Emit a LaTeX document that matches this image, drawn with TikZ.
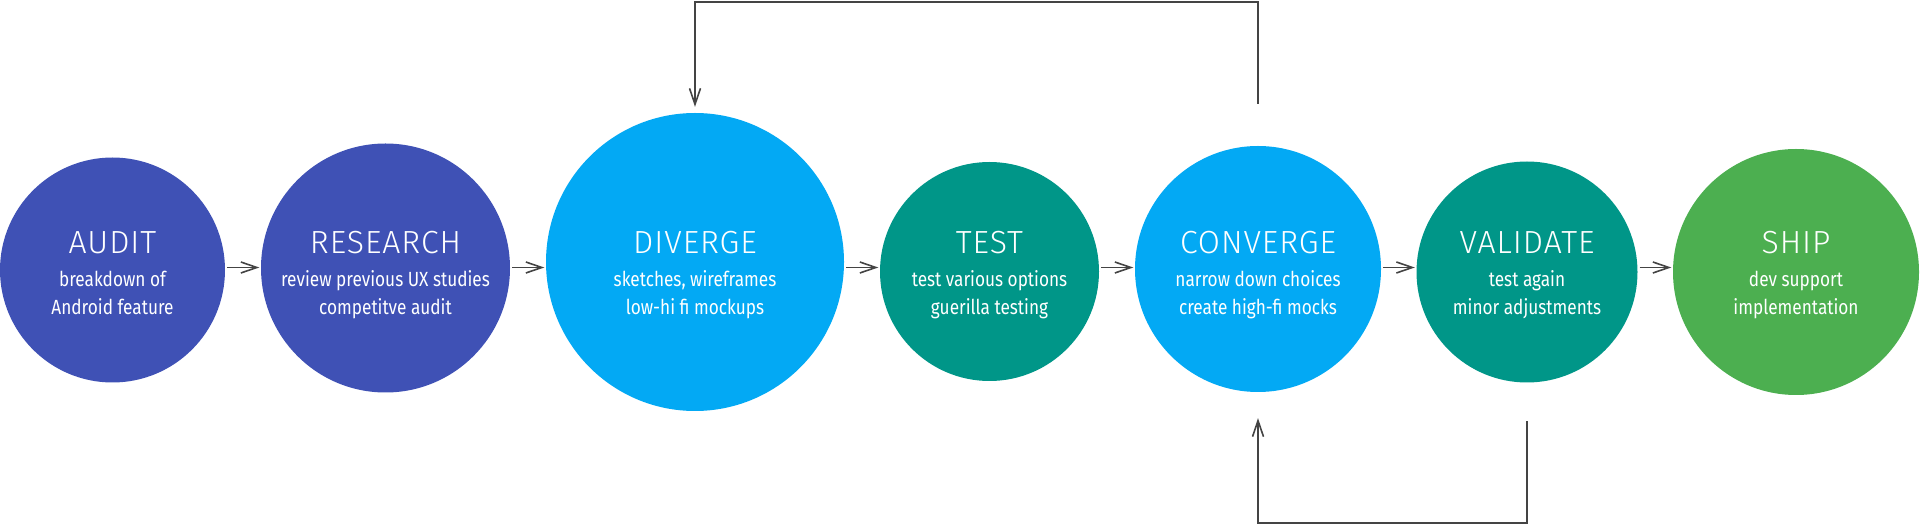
\documentclass[tikz,border=0pt]{standalone}
\usepackage{fontspec}
\setmainfont{Fira Sans}
\newfontfamily\ttlfont{Fira Sans}[UprightFont=* Light, LetterSpace=3]
\newfontfamily\subfont{Fira Sans}[FakeStretch=0.84]
\usetikzlibrary{arrows.meta}
\definecolor{cIndigo}{HTML}{3F51B5}
\definecolor{cLBlue}{HTML}{03A9F4}
\definecolor{cTeal}{HTML}{009688}
\definecolor{cGreen}{HTML}{4CAF50}
\definecolor{cArrow}{HTML}{444444}
\tikzset{
  stage/.style={circle, draw=none, inner sep=0pt, minimum size=#1},
  ttl/.style={anchor=base, text=white, inner sep=0pt, font=\ttlfont\fontsize{32}{32}\selectfont},
  sub/.style={anchor=base, text=white, inner sep=0pt, align=center, font=\subfont\fontsize{20.5}{28}\selectfont},
  arr/.style={draw=cArrow, line width=1.6pt, -{Straight Barb[length=16pt,width=11pt,line width=1.6pt]}},
  flow/.style={arr, shorten <=2pt, shorten >=1.5pt}
}
\begin{document}
\begin{tikzpicture}[x=1pt,y=1pt]
\useasboundingbox (0,0) rectangle (1920,525);
\coordinate (mid) at (0,257.5);
\coordinate (ttlY) at (0,271);
\coordinate (subY) at (0,210);
\coordinate (topY) at (0,523);
\coordinate (botY) at (0,2);

\node[stage=225pt, fill=cIndigo] (audit) at (112.5,255) {};
\node[stage=249pt, fill=cIndigo] (research) at (385.5,257) {};
\node[stage=298pt, fill=cLBlue] (diverge) at (695,263) {};
\node[stage=219pt, fill=cTeal] (test) at (989.5,253.5) {};
\node[stage=246pt, fill=cLBlue] (converge) at (1258,256) {};
\node[stage=221pt, fill=cTeal] (validate) at (1527,253) {};
\node[stage=246pt, fill=cGreen] (ship) at (1796,253) {};

\node[ttl] (t1) at (audit |- ttlY) {AUDIT};
\node[ttl] (t2) at (research |- ttlY) {RESEARCH};
\node[ttl] (t3) at (diverge |- ttlY) {DIVERGE};
\node[ttl] (t4) at (test |- ttlY) {TEST};
\node[ttl] (t5) at (converge |- ttlY) {CONVERGE};
\node[ttl] (t6) at (validate |- ttlY) {VALIDATE};
\node[ttl] (t7) at (ship |- ttlY) {SHIP};

\node[sub] (s1) at (audit |- subY) {breakdown of\\Android feature};
\node[sub] (s2) at (research |- subY) {review previous UX studies\\competitve audit};
\node[sub] (s3) at (diverge |- subY) {sketches, wireframes\\low-hi fi mockups};
\node[sub] (s4) at (test |- subY) {test various options\\guerilla testing};
\node[sub] (s5) at (converge |- subY) {narrow down choices\\create high-fi mocks};
\node[sub] (s6) at (validate |- subY) {test again\\minor adjustments};
\node[sub] (s7) at (ship |- subY) {dev support\\implementation};

\draw[flow] (audit.east |- mid) -- (research.west |- mid);
\draw[flow] (research.east |- mid) -- (diverge.west |- mid);
\draw[flow] (diverge.east |- mid) -- (test.west |- mid);
\draw[flow] (test.east |- mid) -- (converge.west |- mid);
\draw[flow] (converge.east |- mid) -- (validate.west |- mid);
\draw[flow] (validate.east |- mid) -- (ship.west |- mid);

\draw[arr] ([yshift=42pt]converge.north) -- (converge.north |- topY) -- (diverge.north |- topY) -- ([yshift=6pt]diverge.north);
\draw[arr] ([yshift=-38.5pt]validate.south) -- (validate.south |- botY) -- (converge.south |- botY) -- ([yshift=-26pt]converge.south);
\end{tikzpicture}
\end{document}
